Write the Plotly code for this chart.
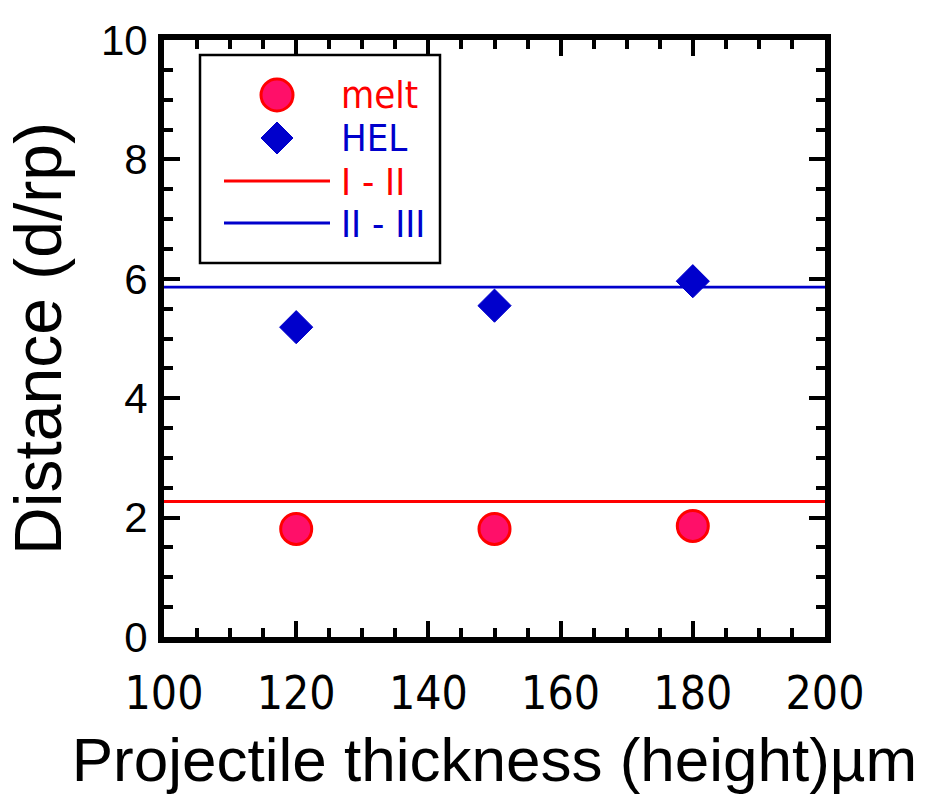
import plotly.graph_objects as go

# ---- data ----
thickness = [120, 150, 180]
melt = [1.81, 1.81, 1.86]
hel = [5.19, 5.55, 5.96]
line_x = [100, 200]
boundary_I_II = [2.27, 2.27]
boundary_II_III = [5.86, 5.86]
x_ticks = [100, 120, 140, 160, 180, 200]
y_ticks = [0, 2, 4, 6, 8, 10]
legend_labels = ["melt", "HEL", "I - II", "II - III"]

# ---- layout geometry ----
W, H = 928, 803
L, R, T, B = 164, 103, 40, 166
pw, ph = W - L - R, H - T - B


def px(x):
    return (x - L) / pw


def py(y):
    return (H - B - y) / ph


RED = "#FF0000"
PINK = "#FF0F69"
BLUE = "#0000CC"
NARROW = "Liberation Sans Narrow, DejaVu Sans Condensed, Arial Narrow, sans-serif"
SANS = "Liberation Sans, Arial, Helvetica, sans-serif"

fig = go.Figure()
fig.add_trace(go.Scatter(x=line_x, y=boundary_I_II, mode="lines",
                         line=dict(color=RED, width=2.8), name=legend_labels[2]))
fig.add_trace(go.Scatter(x=line_x, y=boundary_II_III, mode="lines",
                         line=dict(color=BLUE, width=2.8), name=legend_labels[3]))
fig.add_trace(go.Scatter(x=thickness, y=melt, mode="markers", name=legend_labels[0],
                         marker=dict(symbol="circle", size=31, color=PINK,
                                     line=dict(color=RED, width=3))))
fig.add_trace(go.Scatter(x=thickness, y=hel, mode="markers", name=legend_labels[1],
                         marker=dict(symbol="diamond", size=25.5, color=BLUE,
                                     line=dict(color=BLUE, width=1))))

axis_common = dict(
    showline=True, linecolor="black", linewidth=6, mirror="ticks",
    ticks="inside", ticklen=16, tickwidth=4, tickcolor="black",
    showgrid=False, zeroline=False,
)

fig.update_xaxes(
    range=[100, 200], tickvals=x_ticks, ticktext=[str(v) for v in x_ticks],
    minor=dict(dtick=5, tick0=100, ticks="inside", ticklen=9, tickwidth=4, tickcolor="black", showgrid=False),
    tickfont=dict(family=NARROW, size=46, color="black"),
    ticklabelstandoff=11,
    title=dict(text="Projectile thickness (height)µm", font=dict(family=SANS, size=62, color="black"),
               standoff=20),
    **axis_common,
)
fig.update_yaxes(
    range=[0, 10], tickvals=y_ticks, ticktext=[str(v) for v in y_ticks],
    minor=dict(dtick=0.5, tick0=0, ticks="inside", ticklen=9, tickwidth=4, tickcolor="black", showgrid=False),
    tickfont=dict(family=SANS, size=42, color="black"),
    ticklabelstandoff=2,
    title=dict(text="Distance (d/rp)", font=dict(family=SANS, size=66, color="black"), standoff=20),
    **axis_common,
)

# ---- legend drawn as layout decoration ----
shapes = [
    dict(type="rect", xref="paper", yref="paper", x0=px(200), x1=px(440), y0=py(263), y1=py(55),
         line=dict(color="black", width=2.5), fillcolor="white", layer="above"),
    dict(type="circle", xref="paper", yref="paper", x0=px(261), x1=px(293), y0=py(111), y1=py(79),
         line=dict(color=RED, width=3), fillcolor=PINK),
    dict(type="path", xref="paper", yref="paper",
         path=f"M{px(261)},{py(138)} L{px(277)},{py(122)} L{px(293)},{py(138)} L{px(277)},{py(154)} Z",
         line=dict(color=BLUE, width=1), fillcolor=BLUE),
    dict(type="line", xref="paper", yref="paper", x0=px(224), x1=px(330), y0=py(181), y1=py(181),
         line=dict(color=RED, width=2.8)),
    dict(type="line", xref="paper", yref="paper", x0=px(224), x1=px(330), y0=py(223), y1=py(223),
         line=dict(color=BLUE, width=2.8)),
]
leg_y = [95, 138, 182, 224]
leg_c = [RED, BLUE, RED, BLUE]
annotations = [
    dict(text=t, xref="paper", yref="paper", x=px(339), y=py(yy), xanchor="left", yanchor="middle",
         showarrow=False, font=dict(family=NARROW, size=38, color=c))
    for t, yy, c in zip(legend_labels, leg_y, leg_c)
]

fig.update_layout(
    width=W, height=H, margin=dict(l=L, r=R, t=T, b=B, autoexpand=False),
    paper_bgcolor="white", plot_bgcolor="white", showlegend=False,
    shapes=shapes, annotations=annotations,
)

fig.write_html("out.html")
